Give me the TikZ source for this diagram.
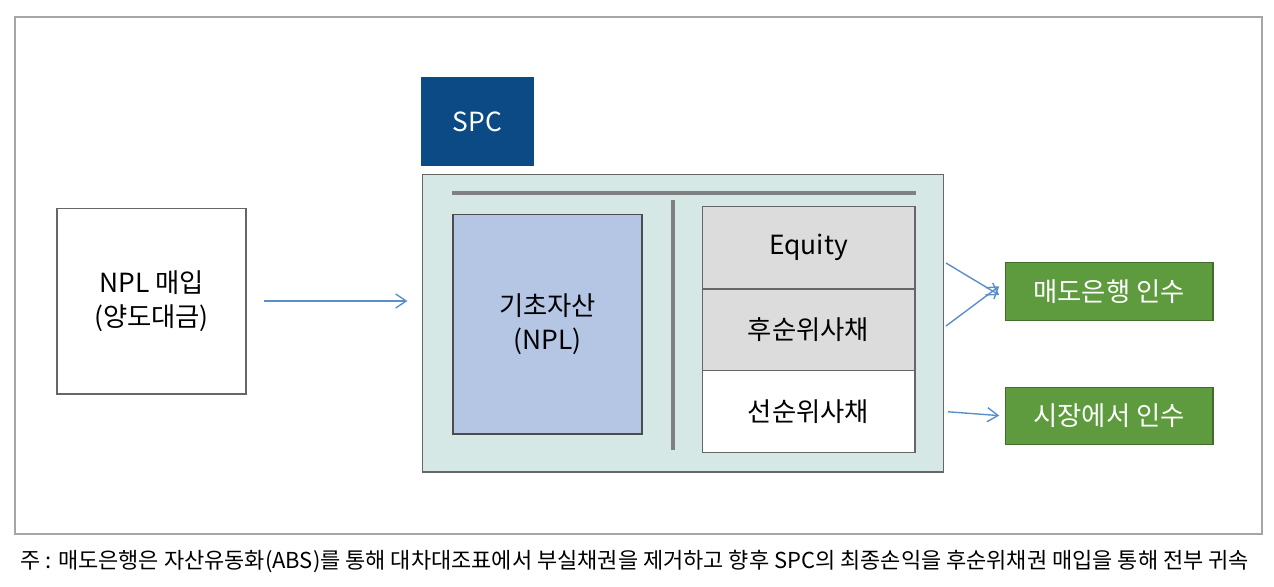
\documentclass[tikz,border=0pt]{standalone}
\usepackage{fontspec}
\setmainfont{Noto Sans CJK KR}
\usetikzlibrary{arrows.meta}
\definecolor{spcblue}{HTML}{0B4A85}
\definecolor{boxbg}{HTML}{D6E8E5}
\definecolor{assetblue}{HTML}{B4C6E4}
\definecolor{bondgray}{HTML}{DCDCDC}
\definecolor{buygreen}{HTML}{5E9A3E}
\definecolor{flowblue}{HTML}{5B8FC9}
\begin{document}
\begin{tikzpicture}[x=0.02cm,y=-0.02cm,
  box/.style={draw=gray!80!black, line width=0.6pt, inner sep=0pt, align=center, font=\fontsize{15}{19}\selectfont},
  buy/.style={box, fill=buygreen, draw=buygreen!70!black, text=white, minimum width=4.16cm, minimum height=1.15cm},
  bond/.style={box, minimum width=4.26cm, minimum height=1.64cm},
  flow/.style={draw=flowblue, line width=0.8pt, -{Straight Barb[length=6pt,width=8pt]}}]
\useasboundingbox (0,0) rectangle (1274,586);
\draw[gray!70, line width=0.6pt] (15,17) rectangle (1262,534);

% left side
\node[box, fill=white, minimum width=3.78cm, minimum height=3.72cm] (npl) at (151.5,301) {NPL 매입\\(양도대금)};

% SPC
\node[box, fill=spcblue, draw=spcblue, text=white, minimum width=2.22cm, minimum height=1.74cm] (spc) at (477.5,121.5) {SPC};
\node[box, fill=boxbg, minimum width=10.44cm, minimum height=5.96cm] (vehicle) at (683,323) {};
\draw[gray, line width=2pt] (452,193) -- (916,193);
\draw[gray, line width=2pt] (673,200) -- (673,450);
\node[box, fill=assetblue, draw=gray!60!black, minimum width=3.78cm, minimum height=4.4cm] (asset) at (547.5,324) {기초자산\\(NPL)};

% bonds
\node[bond, fill=bondgray] (equity) at (808.5,247.5) {Equity};
\node[bond, fill=bondgray] (junior) at (808.5,330) {후순위사채};
\node[bond, fill=white] (senior) at (808.5,411.5) {선순위사채};

% buyers
\node[buy] (bank) at (1109,291.5) {매도은행 인수};
\node[buy] (market) at (1109,416) {시장에서 인수};

\coordinate (eqout) at (946,263);
\coordinate (jrout) at (946,326);
\draw[flow, shorten <=10pt, shorten >=8pt] (npl.east) -- (npl.east -| vehicle.west);
\draw[flow] (eqout) -- ([xshift=-3pt,yshift=-2pt]bank.west);
\draw[flow] (jrout) -- ([xshift=-3pt,yshift=3pt]bank.west);
\draw[flow, shorten <=2pt, shorten >=3pt] (senior.east -| vehicle.east) -- (market.west);

\node[anchor=west, inner sep=0pt, font=\fontsize{12.5}{15}\selectfont] (note) at (20,561) {주 : 매도은행은 자산유동화(ABS)를 통해 대차대조표에서 부실채권을 제거하고 향후 SPC의 최종손익을 후순위채권 매입을 통해 전부 귀속};
\end{tikzpicture}
\end{document}
